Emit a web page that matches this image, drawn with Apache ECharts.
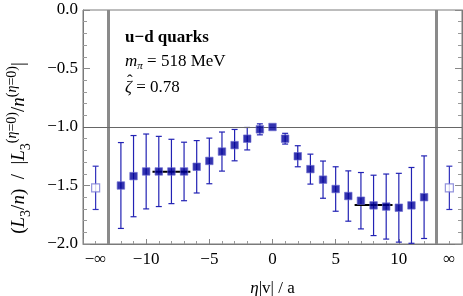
<!DOCTYPE html>
<html><head><meta charset="utf-8">
<script src="https://cdn.jsdelivr.net/npm/echarts@6/dist/echarts.min.js"></script>
<style>html,body{margin:0;padding:0;background:#fff}#c{width:463px;height:296px}</style>
</head><body><div id="c"></div>
<script>
// ---- data ----
const etas  = [-12,-11,-10,-9,-8,-7,-6,-5,-4,-3,-2,-1,0,1,2,3,4,5,6,7,8,9,10,11,12];
const means = [-1.50,-1.42,-1.38,-1.38,-1.38,-1.38,-1.34,-1.29,-1.21,-1.155,-1.10,-1.02,-1.00,-1.10,-1.25,-1.36,-1.45,-1.53,-1.59,-1.63,-1.67,-1.68,-1.69,-1.67,-1.60];
const errs  = [0.367,0.347,0.32,0.30,0.275,0.25,0.224,0.195,0.167,0.134,0.096,0.047,0.0,0.046,0.09,0.128,0.159,0.19,0.215,0.241,0.258,0.278,0.294,0.324,0.353];
const infEtas  = [-14, 14];
const infMeans = [-1.52, -1.52];
const infErrs  = [0.185, 0.185];
const fitStarts = [-9.5, 6.5];
const fitEnds   = [-6.5, 9.5];
const fitValues = [-1.382, -1.667];
const xTickValues = [-14,-10,-5,0,5,10,14];
const xTickLabels = ['−∞','−10','−5','0','5','10','∞'];
const limitLines = [-13, 13];
const refLine = -1.0;

const serif = "'Liberation Serif','DejaVu Serif',serif";
const chart = echarts.init(document.getElementById('c'));

const pts = etas.map((e,i)=>[e, means[i], errs[i]]);
const infPts = infEtas.map((e,i)=>[e, infMeans[i], infErrs[i]]);
const fits = fitStarts.map((s,i)=>[s, fitEnds[i], fitValues[i]]);

function errRender(color){
  return function(params, api){
    const x = api.value(0), m = api.value(1), e = api.value(2);
    if (e <= 0) return null;
    const lo = Math.max(m - e, -2), hi = Math.min(m + e, 0);
    const t = api.coord([x, hi]), b = api.coord([x, lo]);
    const cap = 3;
    const st = {stroke: color, lineWidth: 1.2};
    const ch = [{type:'line', shape:{x1:t[0],y1:t[1],x2:b[0],y2:b[1]}, style:st}];
    if (m + e <= 0) ch.push({type:'line', shape:{x1:t[0]-cap,y1:t[1],x2:t[0]+cap,y2:t[1]}, style:st});
    if (m - e >= -2) ch.push({type:'line', shape:{x1:b[0]-cap,y1:b[1],x2:b[0]+cap,y2:b[1]}, style:st});
    return {type:'group', children: ch};
  };
}

const yLabel = '{p|(}{i|L}{sub|3}{p|/}{i|n}{p|)  /  |}{i|L}{sub|3}{sup|(}{supi|η}{sup|=0)}{p|/}{i|n}{sup|(}{supi|η}{sup|=0)}{p||}';

chart.setOption({
  animation: false,
  grid: {left: 83, right: 1, top: 10, bottom: 52, show: true, borderColor: '#7a7a7a', borderWidth: 1, containLabel: false, outerBoundsMode: 'none'},
  xAxis: {
    type: 'value', min: -15, max: 15, interval: 5,
    axisLine: {show: true, onZero: false, lineStyle: {color: '#7a7a7a'}},
    axisTick: {inside: true, length: 5, lineStyle: {color: '#888'}},
    minorTick: {show: true, splitNumber: 5, length: 3, lineStyle: {color: '#999'}},
    splitLine: {show: false},
    axisLabel: {
      customValues: xTickValues,
      formatter: v => { const k = xTickValues.indexOf(v); return k >= 0 ? xTickLabels[k] : ''; },
      fontFamily: serif, fontSize: 17, color: '#000', margin: 7
    },
    name: '{i|η}{p||v| / a}', nameLocation: 'middle', nameGap: 36,
    nameTextStyle: {fontFamily: serif, fontSize: 17, color: '#000', rich: {
      i: {fontFamily: serif, fontStyle: 'italic', fontSize: 17, color: '#000'},
      p: {fontFamily: serif, fontSize: 17, color: '#000'}}}
  },
  yAxis: [{
    type: 'value', min: -2, max: 0, interval: 0.5, position: 'left',
    axisLine: {show: true, onZero: false, lineStyle: {color: '#7a7a7a'}},
    axisTick: {inside: true, length: 7, lineStyle: {color: '#888'}},
    minorTick: {show: true, splitNumber: 5, length: 4, lineStyle: {color: '#999'}},
    splitLine: {show: false},
    axisLabel: {formatter: v => v.toFixed(1).replace('-', '−'), fontFamily: serif, fontSize: 17, color: '#000', margin: 5}
  }, {
    type: 'value', min: -2, max: 0, interval: 0.5, position: 'right',
    axisLine: {show: true, onZero: false, lineStyle: {color: '#7a7a7a'}},
    axisTick: {inside: true, length: 7, lineStyle: {color: '#888'}},
    minorTick: {show: true, splitNumber: 5, length: 4, lineStyle: {color: '#999'}},
    splitLine: {show: false}, axisLabel: {show: false}
  }],
  graphic: [
    {type: 'text', x: 19, y: 148, rotation: Math.PI / 2, style: {
      text: yLabel, align: 'center', verticalAlign: 'middle', fill: '#000',
      rich: {
        p: {fontFamily: serif, fontSize: 19, lineHeight: 28, fill:'#000'},
        i: {fontFamily: serif, fontStyle: 'italic', fontSize: 19, lineHeight: 28, fill:'#000'},
        sub: {fontFamily: serif, fontSize: 14, lineHeight: 14, verticalAlign: 'bottom', fill:'#000'},
        sup: {fontFamily: serif, fontSize: 14, lineHeight: 14, verticalAlign: 'top', fill:'#000'},
        supi: {fontFamily: serif, fontStyle: 'italic', fontSize: 14, lineHeight: 14, verticalAlign: 'top', fill:'#000'}
      }}},
    {type: 'text', left: 125, top: 29, style: {text: 'u−d quarks', fontFamily: serif, fontWeight: 'bold', fontSize: 17, fill: '#000'}},
    {type: 'text', left: 125, top: 53, style: {text: '{i|m}{s|π}{p| = 518 MeV}', fill:'#000', rich: {
      i: {fontFamily: serif, fontStyle: 'italic', fontSize: 17, lineHeight: 20},
      s: {fontFamily: serif, fontStyle: 'italic', fontSize: 11, lineHeight: 11, verticalAlign: 'bottom'},
      p: {fontFamily: serif, fontSize: 17, lineHeight: 20}}}},
    {type: 'text', left: 125, top: 79, style: {text: '{i|ζ}{p| = 0.78}', fill:'#000', rich: {
      i: {fontFamily: serif, fontStyle: 'italic', fontSize: 17, lineHeight: 20},
      p: {fontFamily: serif, fontSize: 17, lineHeight: 20}}}},
    {type: 'text', left: 127, top: 73, style: {text: 'ˆ', fontFamily: serif, fontSize: 17, fill: '#000'}}
  ],
  series: [
    {
      type: 'line', data: [], silent: true,
      markLine: {
        silent: true, symbol: 'none', label: {show: false}, animation: false,
        data: [
          ...limitLines.map(v => ({xAxis: v, lineStyle: {color: '#8a8a8a', width: 3, type: 'solid'}})),
          {yAxis: refLine, lineStyle: {color: '#666', width: 1, type: 'solid'}}
        ]
      }
    },
    {type: 'custom', data: pts, renderItem: errRender('#2222b4'), z: 3, encode: {x: 0, y: 1}},
    {type: 'custom', data: infPts, renderItem: errRender('#3030bc'), z: 3, encode: {x: 0, y: 1}},
    {
      type: 'custom', data: fits, z: 4, encode: {x: [0, 1], y: 2},
      renderItem: (params, api) => {
        const a = api.coord([api.value(0), api.value(2)]), b = api.coord([api.value(1), api.value(2)]);
        return {type: 'line', shape: {x1: a[0], y1: a[1], x2: b[0], y2: b[1]}, style: {stroke: '#000', lineWidth: 2}};
      }
    },
    {type: 'scatter', data: pts.map(p => [p[0], p[1]]), symbol: 'rect', symbolSize: 7.5, z: 5,
     itemStyle: {color: '#00009a', borderColor: '#6a6ad0', borderWidth: 0.8}},
    {type: 'scatter', data: infPts.map(p => [p[0], p[1]]), symbol: 'rect', symbolSize: 8, z: 5,
     itemStyle: {color: '#fff', borderColor: '#7878d4', borderWidth: 1.2}}
  ]
});
</script></body></html>
